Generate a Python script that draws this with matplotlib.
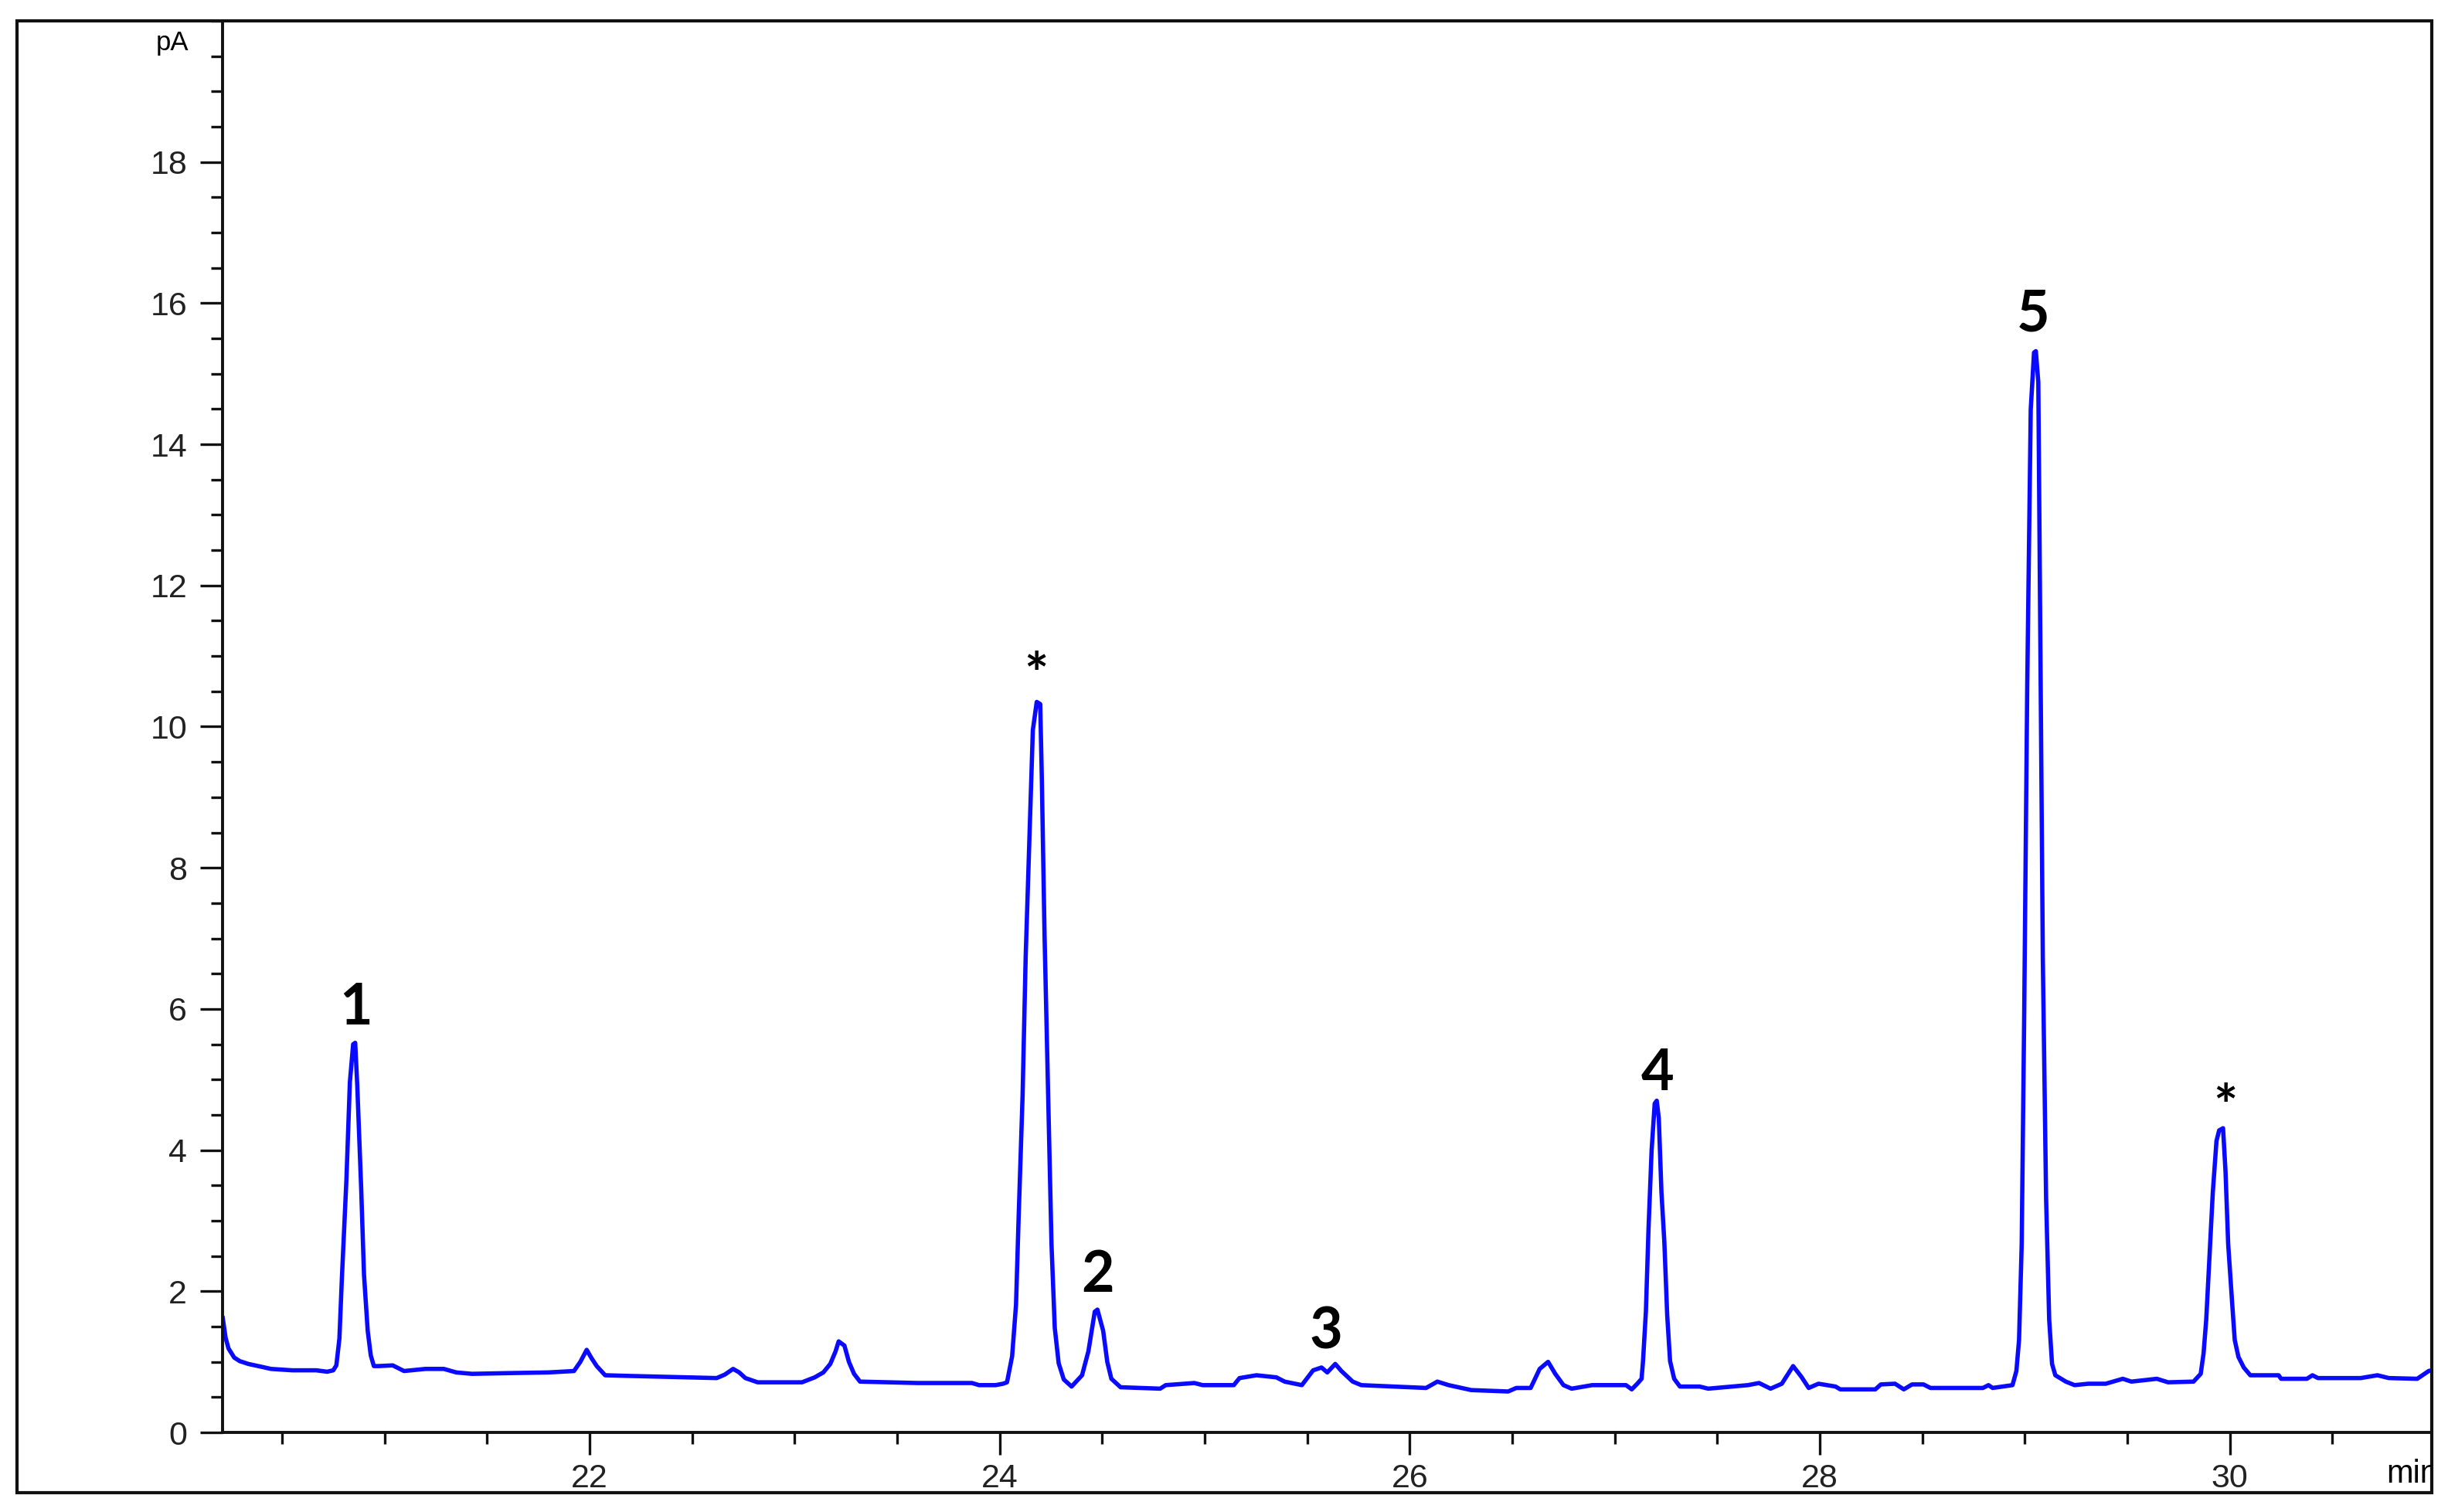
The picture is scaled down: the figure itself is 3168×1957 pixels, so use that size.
import matplotlib
matplotlib.use("Agg")
import matplotlib.pyplot as plt
from matplotlib.patches import Rectangle
from matplotlib.ticker import MultipleLocator

# chromatogram trace: retention time (min) and signal (pA)
time_min = [
    20.211, 20.225, 20.239, 20.267, 20.294, 20.336, 20.40, 20.446, 20.55, 20.667, 20.72, 20.75, 20.765,
    20.78, 20.792, 20.814, 20.831, 20.847, 20.857, 20.867, 20.886, 20.90, 20.918, 20.933, 20.948,
    20.971, 21.04, 21.095, 21.20, 21.289, 21.35, 21.427, 21.60, 21.80, 21.924, 21.955, 21.986, 22.01,
    22.035, 22.076, 22.20, 22.345, 22.62, 22.66, 22.70, 22.73, 22.76, 22.82, 23.036, 23.098, 23.14,
    23.174, 23.20, 23.215, 23.243, 23.265, 23.29, 23.319, 23.60, 23.865, 23.90, 23.98, 24.017, 24.036,
    24.061, 24.080, 24.093, 24.112, 24.127, 24.147, 24.162, 24.181, 24.198, 24.206, 24.219, 24.238,
    24.253, 24.269, 24.288, 24.313, 24.351, 24.402, 24.433, 24.464, 24.477, 24.505, 24.525, 24.545,
    24.59, 24.783, 24.81, 24.95, 24.99, 25.142, 25.17, 25.253, 25.35, 25.39, 25.474, 25.529, 25.57,
    25.598, 25.637, 25.667, 25.722, 25.764, 26.08, 26.135, 26.19, 26.30, 26.48, 26.52, 26.59, 26.634,
    26.675, 26.71, 26.75, 26.79, 26.89, 27.055, 27.083, 27.11, 27.131, 27.138, 27.152, 27.165, 27.18,
    27.195, 27.205, 27.215, 27.228, 27.242, 27.256, 27.27, 27.29, 27.318, 27.414, 27.456, 27.65,
    27.704, 27.76, 27.815, 27.87, 27.91, 27.946, 27.994, 28.077, 28.10, 28.271, 28.298, 28.367, 28.41,
    28.45, 28.506, 28.54, 28.796, 28.823, 28.843, 28.94, 28.959, 28.972, 28.985, 28.997, 29.012,
    29.029, 29.045, 29.054, 29.066, 29.075, 29.088, 29.104, 29.119, 29.133, 29.149, 29.20, 29.243,
    29.31, 29.395, 29.478, 29.52, 29.644, 29.699, 29.823, 29.858, 29.872, 29.885, 29.898, 29.917,
    29.935, 29.948, 29.967, 29.979, 29.992, 30.011, 30.024, 30.042, 30.068, 30.10, 30.238, 30.25,
    30.376, 30.403, 30.43, 30.638, 30.72, 30.776, 30.914, 30.97, 30.985,
]
signal_pA = [
    1.62, 1.34, 1.19, 1.06, 1.01, 0.97, 0.93, 0.90, 0.88, 0.88, 0.86, 0.88, 0.95,
    1.33, 2.18, 3.57, 4.96, 5.50, 5.52, 4.92, 3.47, 2.23, 1.44, 1.09, 0.94,
    0.94, 0.95, 0.87, 0.90, 0.90, 0.85, 0.83, 0.84, 0.85, 0.87, 1.00, 1.17, 1.05,
    0.94, 0.81, 0.80, 0.79, 0.77, 0.82, 0.90, 0.85, 0.77, 0.71, 0.71, 0.78, 0.85,
    0.97, 1.15, 1.29, 1.23, 1.00, 0.83, 0.72, 0.70, 0.70, 0.67, 0.67, 0.69, 0.71,
    1.08, 1.81, 3.07, 4.77, 6.73, 8.59, 9.95, 10.35, 10.32, 9.25, 7.06, 4.60,
    2.67, 1.48, 0.98, 0.75, 0.65, 0.81, 1.15, 1.71, 1.74, 1.44, 1.00, 0.76,
    0.64, 0.62, 0.67, 0.70, 0.67, 0.67, 0.77, 0.81, 0.78, 0.72, 0.67, 0.88, 0.92,
    0.85, 0.97, 0.87, 0.72, 0.67, 0.63, 0.72, 0.67, 0.60, 0.58, 0.63, 0.63, 0.90,
    1.00, 0.83, 0.67, 0.62, 0.67, 0.67, 0.61, 0.69, 0.76, 1.01, 1.71, 2.90, 4.00,
    4.66, 4.70, 4.45, 3.40, 2.70, 1.66, 1.01, 0.76, 0.65, 0.65, 0.62, 0.67,
    0.70, 0.62, 0.69, 0.94, 0.79, 0.63, 0.69, 0.65, 0.61, 0.61, 0.68, 0.69, 0.61,
    0.68, 0.68, 0.63, 0.63, 0.67, 0.63, 0.67, 0.87, 1.31, 2.67, 5.88, 10.60,
    14.49, 15.30, 15.32, 14.88, 11.48, 6.71, 3.31, 1.60, 0.97, 0.81, 0.72, 0.67,
    0.69, 0.69, 0.76, 0.72, 0.76, 0.71, 0.72, 0.83, 1.12, 1.60, 2.33, 3.40,
    4.13, 4.28, 4.31, 3.70, 2.67, 1.85, 1.31, 1.07, 0.92, 0.81, 0.81, 0.76,
    0.76, 0.81, 0.77, 0.77, 0.81, 0.77, 0.76, 0.87, 0.88,
]

# peak annotations
peak_labels = ["1", "*", "2", "3", "4", "5", "*"]
peak_label_t = [20.86, 24.18, 24.48, 25.59, 27.21, 29.04, 29.98]
peak_label_v = [6.02, 10.70, 2.23, 1.42, 5.09, 15.84, 4.58]

x_major = [22, 24, 26, 28, 30]
y_major = [0, 2, 4, 6, 8, 10, 12, 14, 16, 18]

W, H = 3168, 1957
fig = plt.figure(figsize=(W / 100, H / 100), dpi=100)
fig.patch.set_facecolor("white")

ax = fig.add_axes([288 / W, (H - 1854) / H, (3147 - 288) / W, (1854 - 27) / H])
ax.plot(time_min, signal_pA, color="#0a0aff", lw=4.0)

ax.set_xlim(20.21, 30.985)
ax.set_ylim(0, 20)

for s in ["top", "right"]:
    ax.spines[s].set_visible(False)
for s in ["left", "bottom"]:
    ax.spines[s].set_linewidth(2.8)
    ax.spines[s].set_color("#111111")

ax.set_xticks(x_major)
ax.set_yticks(y_major)
ax.xaxis.set_minor_locator(MultipleLocator(0.5))
ax.yaxis.set_minor_locator(MultipleLocator(0.5))
ax.tick_params(which="major", length=21, width=2.4, color="#111111", direction="out",
               labelsize=31, labelcolor="#222222", pad=8)
ax.tick_params(which="minor", length=11, width=2.4, color="#111111", direction="out")
ax.tick_params(axis="y", which="major", pad=12)
for lab in ax.get_xticklabels() + ax.get_yticklabels():
    lab.set_fontfamily("Liberation Sans")

for lab, t, v in zip(peak_labels, peak_label_t, peak_label_v):
    ax.text(t, v, lab, ha="center", va="center", fontsize=53, fontweight="bold",
            family="Lato", color="black")

# outer frame
frame = Rectangle((22 / W, (H - 1932) / H), (3147 - 22) / W, (1932 - 27) / H,
                  transform=fig.transFigure, fill=False, lw=3.0, edgecolor="#111111")
fig.patches.append(frame)

fig.text(223 / W, (H - 55) / H, "pA", ha="center", va="center", fontsize=25,
         family="Liberation Sans", color="black")
mt = fig.text(3088 / W, (H - 1908) / H, "min", ha="left", va="center", fontsize=30,
              family="Liberation Sans", color="black")
mt.set_clip_path(frame)

fig.savefig("out.png", dpi=100, facecolor="white")
